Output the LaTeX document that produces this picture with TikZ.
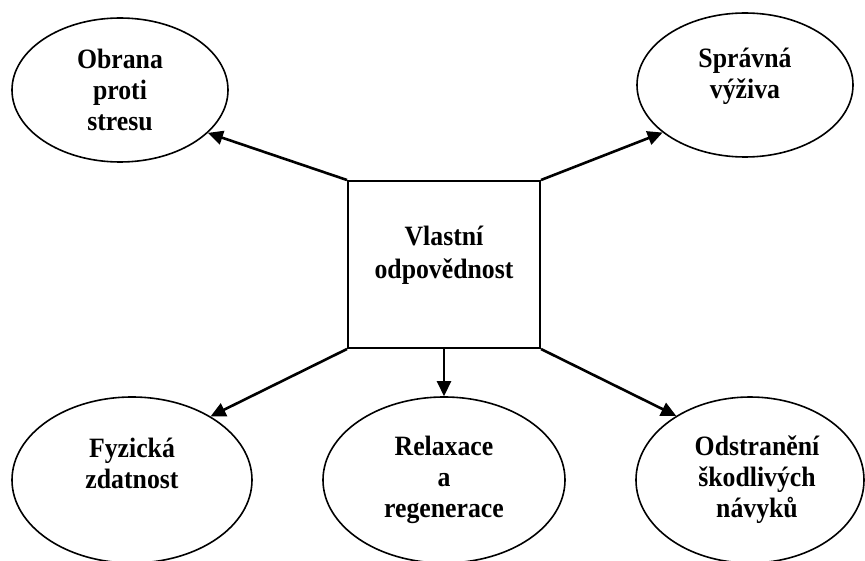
\documentclass[tikz,border=0pt]{standalone}
\usepackage{fontspec}
\setmainfont{Liberation Serif}[FakeStretch=0.92]
\usetikzlibrary{shapes.geometric,arrows.meta}
\begin{document}
\begin{tikzpicture}[x=1pt,y=-1pt,
  lbl/.style={font=\fontsize{28}{31}\selectfont\bfseries,align=center},
  bub/.style={draw,ellipse,line width=1.6pt,inner sep=0pt,lbl},
  hub/.style={draw,rectangle,line width=2pt,inner sep=0pt,minimum width=192pt,minimum height=167pt},
  link/.style={line width=2.6pt,-{Triangle[length=15pt,width=14pt]}}
]
\useasboundingbox (0,0) rectangle (865,561);

\node[hub,label={[lbl,font=\fontsize{28}{33}\selectfont\bfseries,yshift=9.5pt]center:Vlastní\\odpovědnost}] (hub) at (444,264.5) {};

\node[bub,minimum width=216pt,minimum height=144pt] (tl) at (120,90) {Obrana\\proti\\stresu};
\node[bub,minimum width=216pt,minimum height=144pt,label={[lbl,yshift=9pt]center:Správná\\výživa}] (tr) at (745,85) {};
\node[bub,minimum width=240pt,minimum height=166pt,label={[lbl,yshift=17pt]center:Fyzická\\zdatnost}] (bl) at (132,480) {};
\node[bub,minimum width=242pt,minimum height=166pt] (bm) at (444,480) {Relaxace\\a\\regenerace};
\node[bub,minimum width=228pt,minimum height=166pt,label={[lbl,xshift=7pt]center:Odstranění\\škodlivých\\návyků}] (br) at (750,480) {};

\draw[link] (hub.north west) -- (tl.-26.3);
\draw[link] (hub.north east) -- (tr.-150.6);
\draw[link] (hub.south west) -- (bl.39.6);
\draw[link] (hub.south) -- (bm.90);
\draw[link] (hub.south east) -- (br.139.7);
\end{tikzpicture}
\end{document}
